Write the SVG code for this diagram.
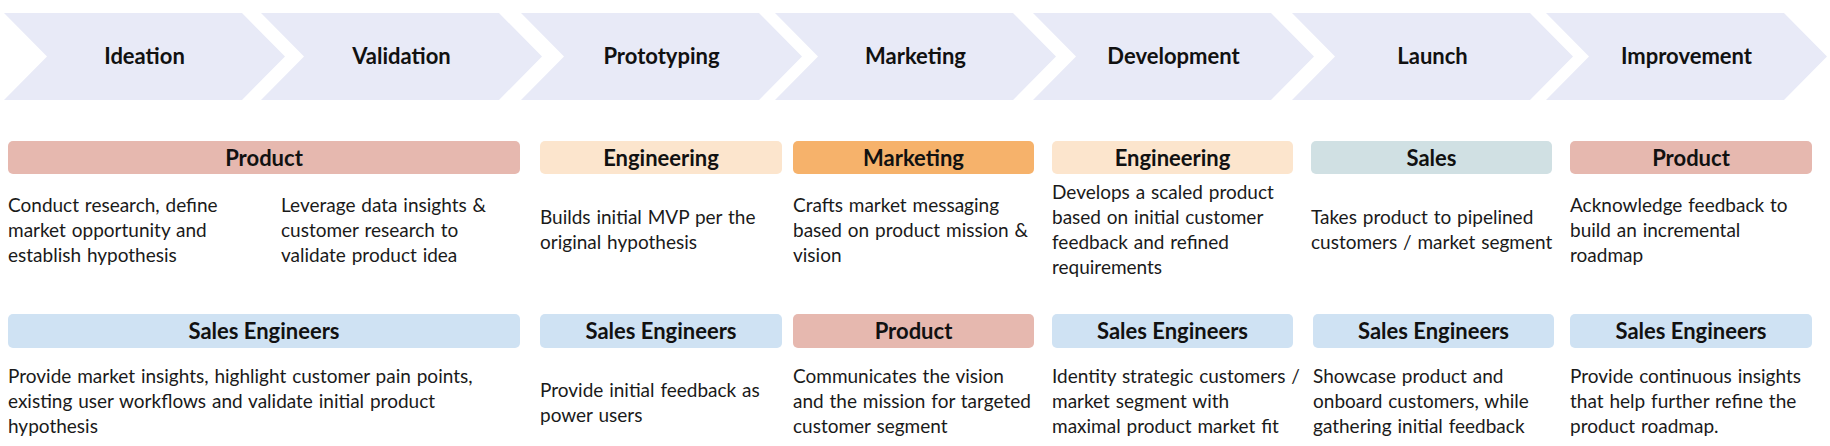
<svg xmlns="http://www.w3.org/2000/svg" width="1830" height="446" viewBox="0 0 1830 446">
<style>
.chev{fill:#E8EAF7}
.lbl{font-family:Lato,"Open Sans","Liberation Sans",sans-serif;font-weight:700;font-size:22px;fill:#111;text-anchor:middle}
.hdr{font-family:Lato,"Open Sans","Liberation Sans",sans-serif;font-weight:700;font-size:22px;fill:#111;text-anchor:middle}
.txt{font-family:Lato,"Open Sans","Liberation Sans",sans-serif;font-size:19px;word-spacing:1px;fill:#1a1a1a}
.prod{fill:#E6B8AF}
.eng{fill:#FCE5CD}
.mkt{fill:#F6B26B}
.sales{fill:#D0E0E3}
.se{fill:#CFE2F3}
</style>
<rect width="1830" height="446" fill="#ffffff"/>
<g id="stages">
<g id="stage-ideation"><polygon class="chev" points="4,13 242,13 285,56.5 242,100 4,100 47,56.5"/><text class="lbl" x="144.5" y="64">Ideation</text></g>
<g id="stage-validation"><polygon class="chev" points="261,13 499,13 542,56.5 499,100 261,100 304,56.5"/><text class="lbl" x="401.5" y="64">Validation</text></g>
<g id="stage-prototyping"><polygon class="chev" points="521,13 759,13 802,56.5 759,100 521,100 564,56.5"/><text class="lbl" x="661.5" y="64">Prototyping</text></g>
<g id="stage-marketing"><polygon class="chev" points="775,13 1013,13 1056,56.5 1013,100 775,100 818,56.5"/><text class="lbl" x="915.5" y="64">Marketing</text></g>
<g id="stage-development"><polygon class="chev" points="1033,13 1271,13 1314,56.5 1271,100 1033,100 1076,56.5"/><text class="lbl" x="1173.5" y="64">Development</text></g>
<g id="stage-launch"><polygon class="chev" points="1292,13 1530,13 1573,56.5 1530,100 1292,100 1335,56.5"/><text class="lbl" x="1432.5" y="64">Launch</text></g>
<g id="stage-improvement"><polygon class="chev" points="1546,13 1784,13 1827,56.5 1784,100 1546,100 1589,56.5"/><text class="lbl" x="1686.5" y="64">Improvement</text></g>
</g>
<g id="connectors"></g>
<g id="row1">
<g id="r1-product"><rect class="prod" x="8" y="141" width="512" height="33" rx="5"/><text class="hdr" x="264" y="165.5">Product</text>
<text class="txt" x="8" y="212">Conduct research, define</text><text class="txt" x="8" y="237">market opportunity and</text><text class="txt" x="8" y="262">establish hypothesis</text>
<text class="txt" x="281" y="212">Leverage data insights &amp;</text><text class="txt" x="281" y="237">customer research to</text><text class="txt" x="281" y="262">validate product idea</text></g>
<g id="r1-engineering"><rect class="eng" x="540" y="141" width="242" height="33" rx="5"/><text class="hdr" x="661" y="165.5">Engineering</text>
<text class="txt" x="540" y="224">Builds initial MVP per the</text><text class="txt" x="540" y="249">original hypothesis</text></g>
<g id="r1-marketing"><rect class="mkt" x="793" y="141" width="241" height="33" rx="5"/><text class="hdr" x="913.5" y="165.5">Marketing</text>
<text class="txt" x="793" y="212">Crafts market messaging</text><text class="txt" x="793" y="237">based on product mission &amp;</text><text class="txt" x="793" y="262">vision</text></g>
<g id="r1-engineering2"><rect class="eng" x="1052" y="141" width="241" height="33" rx="5"/><text class="hdr" x="1172.5" y="165.5">Engineering</text>
<text class="txt" x="1052" y="199">Develops a scaled product</text><text class="txt" x="1052" y="224">based on initial customer</text><text class="txt" x="1052" y="249">feedback and refined</text><text class="txt" x="1052" y="274">requirements</text></g>
<g id="r1-sales"><rect class="sales" x="1311" y="141" width="241" height="33" rx="5"/><text class="hdr" x="1431.5" y="165.5">Sales</text>
<text class="txt" x="1311" y="224">Takes product to pipelined</text><text class="txt" x="1311" y="249">customers / market segment</text></g>
<g id="r1-product2"><rect class="prod" x="1570" y="141" width="242" height="33" rx="5"/><text class="hdr" x="1691" y="165.5">Product</text>
<text class="txt" x="1570" y="212">Acknowledge feedback to</text><text class="txt" x="1570" y="237">build an incremental</text><text class="txt" x="1570" y="262">roadmap</text></g>
</g>
<g id="row2">
<g id="r2-se1"><rect class="se" x="8" y="314" width="512" height="34" rx="5"/><text class="hdr" x="264" y="339">Sales Engineers</text>
<text class="txt" x="8" y="383">Provide market insights, highlight customer pain points,</text><text class="txt" x="8" y="408">existing user workflows and validate initial product</text><text class="txt" x="8" y="433">hypothesis</text></g>
<g id="r2-se2"><rect class="se" x="540" y="314" width="242" height="34" rx="5"/><text class="hdr" x="661" y="339">Sales Engineers</text>
<text class="txt" x="540" y="397">Provide initial feedback as</text><text class="txt" x="540" y="422">power users</text></g>
<g id="r2-product"><rect class="prod" x="793" y="314" width="241" height="34" rx="5"/><text class="hdr" x="913.5" y="339">Product</text>
<text class="txt" x="793" y="383">Communicates the vision</text><text class="txt" x="793" y="408">and the mission for targeted</text><text class="txt" x="793" y="433">customer segment</text></g>
<g id="r2-se3"><rect class="se" x="1052" y="314" width="241" height="34" rx="5"/><text class="hdr" x="1172.5" y="339">Sales Engineers</text>
<text class="txt" x="1052" y="383">Identity strategic customers /</text><text class="txt" x="1052" y="408">market segment with</text><text class="txt" x="1052" y="433">maximal product market fit</text></g>
<g id="r2-se4"><rect class="se" x="1313" y="314" width="241" height="34" rx="5"/><text class="hdr" x="1433.5" y="339">Sales Engineers</text>
<text class="txt" x="1313" y="383">Showcase product and</text><text class="txt" x="1313" y="408">onboard customers, while</text><text class="txt" x="1313" y="433">gathering initial feedback</text></g>
<g id="r2-se5"><rect class="se" x="1570" y="314" width="242" height="34" rx="5"/><text class="hdr" x="1691" y="339">Sales Engineers</text>
<text class="txt" x="1570" y="383">Provide continuous insights</text><text class="txt" x="1570" y="408">that help further refine the</text><text class="txt" x="1570" y="433">product roadmap.</text></g>
</g>
</svg>
